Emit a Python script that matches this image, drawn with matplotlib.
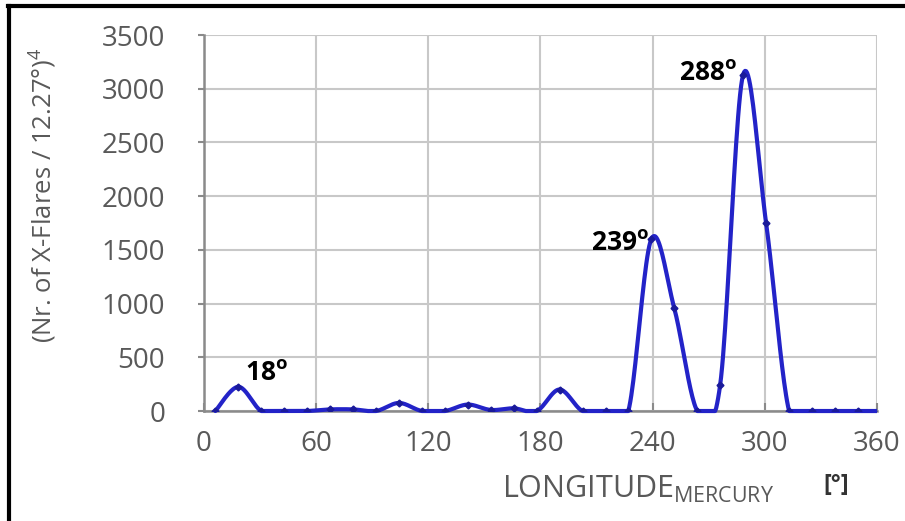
import numpy as np
import matplotlib
matplotlib.use("Agg")
import matplotlib.pyplot as plt
from matplotlib.patches import Rectangle

# bin centres (12.27 deg bins) and flare counts
longitude = [6.1, 18.4, 30.7, 42.9, 55.2, 67.5, 79.8, 92.0, 104.3, 116.6,
             128.9, 141.1, 153.4, 165.7, 178.0, 190.2, 202.5, 214.8, 227.0, 239.3,
             251.6, 263.9, 276.1, 288.4, 300.7, 313.0, 325.2, 337.5, 349.8, 362.0]
flares = [0, 225, 0, 0, 0, 15, 15, 0, 75, 0,
          0, 60, 10, 25, 0, 200, 0, 0, 0, 1600,
          955, 0, 240, 3130, 1750, 0, 0, 0, 0, 0]

x_ticks = [0, 60, 120, 180, 240, 300, 360]
y_ticks = [0, 500, 1000, 1500, 2000, 2500, 3000, 3500]

peak_labels = ["18", "239", "288"]
peak_pos = [(22, 285), (207, 1500), (254, 3080)]

plt.rcParams['font.family'] = ['Open Sans', 'DejaVu Sans']
plt.rcParams['mathtext.fontset'] = 'custom'
plt.rcParams['mathtext.rm'] = 'Open Sans'
plt.rcParams['mathtext.bf'] = 'Open Sans:bold'

GREY = '#595959'
BLUE = '#2323c8'


def smooth(xs, ys, n=24):
    # Excel style smoothed line (bezier through the points), kept >= 0
    p = np.column_stack([xs, ys]).astype(float)
    p = np.vstack([p[0], p, p[-1]])
    out = []
    t = np.linspace(0, 1, n)[:, None]
    for i in range(1, len(p) - 2):
        p0, p3 = p[i], p[i + 1]
        c1 = p0 + (p[i + 1] - p[i - 1]) / 6
        c2 = p3 - (p[i + 2] - p[i]) / 6
        seg = ((1 - t) ** 3) * p0 + 3 * ((1 - t) ** 2) * t * c1 + 3 * (1 - t) * t ** 2 * c2 + t ** 3 * p3
        out.append(seg)
    out = np.vstack(out)
    return out[:, 0], np.maximum(out[:, 1], 0)


fig = plt.figure(figsize=(9.05, 5.21), dpi=100)
ax = fig.add_axes([0.2254, 0.2111, 0.7436, 0.7217])

clip = Rectangle((0, -0.03), 1, 1.06, transform=ax.transAxes, visible=False)
ax.add_patch(clip)

sx, sy = smooth(longitude, flares)
line, = ax.plot(sx, sy, color=BLUE, lw=3, solid_capstyle='round', zorder=3)
line.set_clip_path(clip)
ax.plot(longitude, flares, ls='none', marker='D', ms=3.5, color='#1a1a9a', zorder=4)

ax.set_xlim(0, 360)
ax.set_ylim(0, 3500)
ax.set_xticks(x_ticks)
ax.set_yticks(y_ticks)
ax.grid(True, color='#c8c8c8', lw=1.5)
ax.set_axisbelow(True)

for s in ['top', 'right']:
    ax.spines[s].set_visible(False)
for s in ['left', 'bottom']:
    ax.spines[s].set_color('#8a8a8a')
    ax.spines[s].set_linewidth(1.8)

ax.tick_params(axis='y', direction='out', length=4, width=1.5, color='#8a8a8a',
               labelsize=20, labelcolor=GREY, pad=24)
ax.tick_params(axis='x', direction='in', length=6, width=1.5, color='#8a8a8a',
               labelsize=20, labelcolor=GREY, pad=14)

for lab, (px, py) in zip(peak_labels, peak_pos):
    ax.text(px, py, r'$\mathbf{' + lab + r'^{o}}$', fontsize=19, color='black',
            ha='left', va='baseline', zorder=5)

fig.text(0.047, 0.625, r'(Nr. of X-Flares / 12.27°)$^{4}$', rotation=90,
         fontsize=18.5, color=GREY, ha='center', va='center')
fig.text(0.705, 0.045, r'LONGITUDE$_{\mathrm{MERCURY}}$', fontsize=22,
         color=GREY, ha='center', va='baseline')
fig.text(0.924, 0.069, '[°]', fontsize=17, fontweight='bold', color='#333333',
         ha='center', va='center')

# black frame on the top and left edges
fig.add_artist(plt.Line2D([0.009, 1.0], [0.9893, 0.9893], transform=fig.transFigure,
                          color='black', lw=3))
fig.add_artist(plt.Line2D([0.0095, 0.0095], [0.0, 0.9893], transform=fig.transFigure,
                          color='black', lw=3))

fig.savefig('out.png', dpi=100)
